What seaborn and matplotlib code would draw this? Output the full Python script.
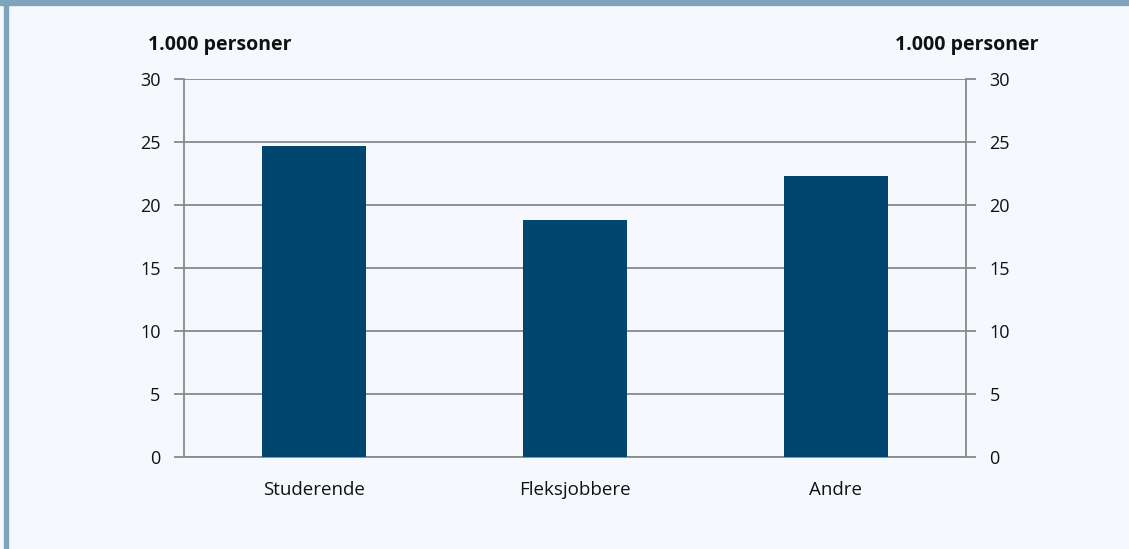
import matplotlib
matplotlib.use("Agg")
import matplotlib.pyplot as plt
import seaborn as sns
import pandas as pd
from matplotlib.patches import Rectangle

categories = ["Studerende", "Fleksjobbere", "Andre"]
values = [24.7, 18.8, 22.3]
y_ticks = [0, 5, 10, 15, 20, 25, 30]
unit_label = "1.000 personer"

BG = "#f5f9fe"
FRAME = "#7fa3bb"
BAR = "#00466e"
GRID = "#8a8a8a"

sns.set_style("white")
plt.rcParams["font.family"] = ["Open Sans", "DejaVu Sans"]

df = pd.DataFrame({"kategori": categories, "antall": values})

fig = plt.figure(figsize=(11.29, 5.49), dpi=100, facecolor=BG)
ax = fig.add_axes([0.163, 0.1676, 0.6926, 0.6884])
ax.set_facecolor(BG)

sns.barplot(data=df, x="kategori", y="antall", color=BAR, width=0.4,
            saturation=1, linewidth=0, ax=ax, zorder=3)

ax.set_ylim(0, 30)
ax.set_xlim(-0.5, len(categories) - 0.5)
ax.set_yticks(y_ticks)
ax.yaxis.grid(True, color=GRID, linewidth=1.3, zorder=0)
ax.set_axisbelow(True)
ax.set_xlabel("")
ax.set_ylabel("")

ax.spines["top"].set_visible(False)
for side in ["left", "right", "bottom"]:
    ax.spines[side].set_color(GRID)
    ax.spines[side].set_linewidth(1.3)

ax.tick_params(axis="y", which="major", length=7, width=1.3, color=GRID,
               labelsize=13, pad=10, labelcolor="#111111")
ax.tick_params(axis="x", which="major", length=0, labelsize=13.5, pad=17,
               labelcolor="#111111")
ax.set_xticks([i - 0.5 for i in range(len(categories) + 1)], minor=True)
ax.tick_params(axis="x", which="minor", length=6, width=1.3, color=GRID)

ax2 = ax.twinx()
ax2.set_ylim(ax.get_ylim())
ax2.set_yticks(y_ticks)
for side in ["top", "left", "bottom", "right"]:
    ax2.spines[side].set_visible(False)
ax2.tick_params(axis="y", length=7, width=1.3, color=GRID, labelsize=13,
                pad=10, labelcolor="#111111")

fig.text(0.131, 0.9, unit_label, fontsize=14, fontweight="bold",
         ha="left", va="bottom", color="#111111")
fig.text(0.92, 0.9, unit_label, fontsize=14, fontweight="bold",
         ha="right", va="bottom", color="#111111")

# frame: top band and left stripe
fig.patches.append(Rectangle((0, 1 - 5 / 549), 1, 5 / 549, transform=fig.transFigure,
                             color=FRAME, zorder=0))
fig.patches.append(Rectangle((4 / 1129, 0), 3.5 / 1129, 1, transform=fig.transFigure,
                             color=FRAME, zorder=0))

fig.savefig("out.png", dpi=100, facecolor=BG)
